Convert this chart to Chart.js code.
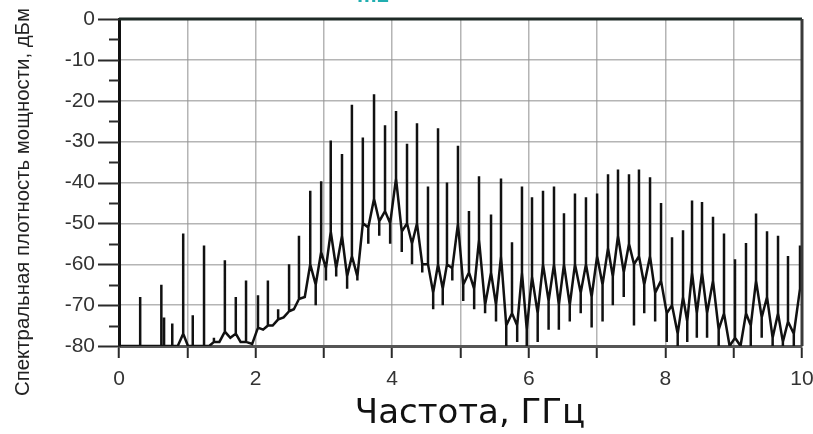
<!DOCTYPE html>
<html>
<head>
<meta charset="utf-8">
<script src="https://cdn.jsdelivr.net/npm/chart.js@4/dist/chart.umd.min.js"></script>
<style>
  html, body { margin: 0; padding: 0; background: #fff; }
  #wrap { width: 813px; height: 434px; }
</style>
</head>
<body>
<div id="wrap"><canvas id="psd" width="813" height="434"></canvas></div>
<script>
// spectral lines (GHz / dBm)
const spikeFreq = [0.31, 0.62, 0.66, 0.78, 0.94, 1.08, 1.245, 1.39, 1.55, 1.71, 1.86, 2.035, 2.18, 2.33, 2.49, 2.635,
  2.80, 2.96, 3.10, 3.265, 3.41, 3.57, 3.734, 3.895, 4.056, 4.217, 4.363, 4.524, 4.671, 4.802, 4.963, 5.124,
  5.271, 5.447, 5.593, 5.754, 5.90, 6.047, 6.208, 6.369, 6.515, 6.676, 6.837, 7.00, 7.16, 7.306, 7.467, 7.613,
  7.775, 7.936, 8.097, 8.258, 8.39, 8.536, 8.697, 8.858, 9.019, 9.18, 9.327, 9.488, 9.649, 9.795, 9.971];
const spikePeak = [-68, -65, -73, -74.5, -52.5, -72.5, -55.4, -78, -59, -68, -64, -67.6, -64, -71, -60, -53,
  -42, -39.7, -29.7, -33, -21, -29, -18.4, -26, -22.5, -30.5, -25.5, -41, -26.7, -40, -31, -47,
  -38.5, -47.8, -39, -54.6, -41, -43.6, -42, -41, -47.5, -42.7, -43.6, -42.7, -38, -36.8, -38, -36.8,
  -38.7, -45, -53.4, -51.7, -44.4, -44.8, -48.4, -52.5, -58.8, -54.8, -47.6, -51.9, -53, -58, -55.4];
// floor level right at the foot of each line
const spikeBase = [-80, -80, -80, -80, -77, -80, -80, -79, -76.5, -77, -79, -75.5, -75, -73.5, -71.5, -68.5,
  -60, -57, -52, -53, -58, -50, -44, -47, -39, -50, -50, -60, -60, -60, -50, -62,
  -54, -62, -58, -72, -62, -63, -60, -60, -60, -60, -60, -58, -56, -53, -55, -58,
  -58, -64, -70, -68, -62, -62, -64, -72, -78, -72, -64, -68, -72, -74, -66];
// noise floor between the lines
const valleyFreq = [0.46, 0.64, 0.72, 0.86, 1.01, 1.16, 1.32, 1.47, 1.63, 1.78, 1.95, 2.11, 2.25, 2.41, 2.56, 2.72,
  2.88, 3.03, 3.18, 3.34, 3.49, 3.65, 3.81, 3.97, 4.14, 4.29, 4.44, 4.60, 4.74, 4.88, 5.04, 5.20,
  5.36, 5.52, 5.67, 5.83, 5.97, 6.13, 6.29, 6.44, 6.60, 6.76, 6.92, 7.08, 7.23, 7.39, 7.54, 7.69,
  7.85, 8.02, 8.18, 8.32, 8.46, 8.61, 8.78, 8.94, 9.10, 9.25, 9.41, 9.57, 9.72, 9.88, 10.0];
const valleyLevel = [-80, -80, -80, -80, -80, -80, -80, -79, -78, -79, -79.5, -76, -75, -73, -71, -68,
  -65, -61, -61, -63, -63, -51, -49.5, -50, -52, -55, -60, -67, -66, -61, -65, -66,
  -70, -70, -75, -75, -76, -72, -69, -70, -70, -67, -68, -65, -63, -62, -60, -65,
  -67, -72, -77, -74, -72, -72, -76, -80, -80, -75, -73, -78, -79, -77, -60];
const valleyDip = [null, null, null, null, null, null, null, null, null, null, null, null, null, null, null, null,
  -70, -64, -63, -66, -64, -55, -53, -55, -57, -60, -62, -71, -70, -64, -69, -71,
  -72, -74, -80, -79, -80, -79, -76, -76, -74, -72, -75.5, -74, -70, -68, -75, -72,
  -74, -79, -80, -79, -78, -78, -80, null, null, -80, -78, -80, -80, -80, null];

const yTicks = [0, -10, -20, -30, -40, -50, -60, -70, -80];
const xTicks = [0, 2, 4, 6, 8, 10];
const yTitle = 'Спектральная плотность мощности, дБм';
const xTitle = 'Частота, ГГц';

// assemble the trace
const trace = [{ x: 0, y: -80 }];
spikeFreq.forEach((f, i) => {
  trace.push({ x: f, y: spikeBase[i] }, { x: f, y: spikePeak[i] }, { x: f, y: spikeBase[i] });
  trace.push({ x: valleyFreq[i], y: valleyLevel[i] });
  if (valleyDip[i] !== null) {
    trace.push({ x: valleyFreq[i], y: valleyDip[i] }, { x: valleyFreq[i], y: valleyLevel[i] });
  }
});

const GRID = 'rgba(150,150,150,0.7)';

// ticks of the left axis, frame, axis titles and marker label
const framePlugin = {
  id: 'frame',
  afterDraw(chart) {
    const { ctx, chartArea: a, scales } = chart;
    const y = scales.y;
    ctx.save();
    ctx.strokeStyle = '#2a2a2a';
    ctx.lineWidth = 2;
    for (let v = 0; v >= -80; v -= 5) {
      const py = Math.round(y.getPixelForValue(v)) + 0.5;
      const len = yTicks.includes(v) ? 21 : 10;
      ctx.beginPath();
      ctx.moveTo(a.left - len, py);
      ctx.lineTo(a.left, py);
      ctx.stroke();
    }
    // top and right edges
    ctx.lineWidth = 3;
    ctx.strokeStyle = '#1e2a26';
    ctx.beginPath();
    ctx.moveTo(a.left, a.top);
    ctx.lineTo(a.right, a.top);
    ctx.stroke();
    ctx.strokeStyle = '#3a3a3a';
    ctx.beginPath();
    ctx.moveTo(a.right, a.top);
    ctx.lineTo(a.right, a.bottom);
    ctx.stroke();

    // y title, condensed like the original
    ctx.save();
    ctx.translate(23, 202);
    ctx.rotate(-Math.PI / 2);
    ctx.font = '20px "Liberation Sans", Arial, sans-serif';
    const w = ctx.measureText(yTitle).width;
    ctx.scale(388 / w, 1);
    ctx.fillStyle = '#222';
    ctx.textAlign = 'center';
    ctx.textBaseline = 'middle';
    ctx.fillText(yTitle, 0, 0);
    ctx.restore();

    // x title, a bit right of the plot centre as in the original
    ctx.fillStyle = '#111';
    ctx.font = '34px "DejaVu Sans", Verdana, sans-serif';
    ctx.textAlign = 'center';
    ctx.textBaseline = 'alphabetic';
    ctx.fillText(xTitle, 470, 423);

    // marker name, clipped by the top of the picture
    ctx.fillStyle = '#21aeb0';
    ctx.font = 'bold 22px "Liberation Sans", Arial, sans-serif';
    ctx.textAlign = 'left';
    ctx.fillText('m1', 357, 2);
    ctx.restore();
  }
};

new Chart(document.getElementById('psd'), {
  type: 'line',
  data: {
    datasets: [{
      data: trace,
      borderColor: '#111',
      borderWidth: 2.5,
      pointRadius: 0,
      tension: 0,
      clip: 0
    }]
  },
  options: {
    responsive: false,
    animation: false,
    devicePixelRatio: 1,
    layout: { padding: { top: 19, right: 11, left: 0, bottom: 0 } },
    plugins: { legend: { display: false }, tooltip: { enabled: false } },
    scales: {
      x: {
        type: 'linear',
        min: 0,
        max: 10,
        afterFit(scale) {
          scale.height = 88;
          scale.paddingLeft = 0;
          scale.paddingRight = 0;
        },
        ticks: {
          stepSize: 1,
          autoSkip: false,
          maxRotation: 0,
          padding: 9,
          color: '#333',
          font: { family: '"Liberation Sans", Arial, sans-serif', size: 21 },
          callback: (v) => xTicks.includes(v) ? String(v) : ''
        },
        grid: { color: GRID, lineWidth: 1.5, tickLength: 12, tickColor: '#2a2a2a', tickWidth: 2 },
        border: { color: '#555', width: 3 }
      },
      y: {
        min: -80,
        max: 0,
        afterFit(scale) { scale.width = 119; },
        ticks: {
          stepSize: 5,
          autoSkip: false,
          padding: 3,
          color: '#333',
          font: { family: '"Liberation Sans", Arial, sans-serif', size: 21 },
          callback: (v) => yTicks.includes(v) ? String(v) : ''
        },
        grid: {
          color: (c) => (c.tick && yTicks.includes(c.tick.value)) ? GRID : 'rgba(0,0,0,0)',
          lineWidth: 1.5,
          tickLength: 21,
          tickColor: 'rgba(0,0,0,0)'
        },
        border: { color: '#111', width: 3 }
      }
    }
  },
  plugins: [framePlugin]
});
</script>
</body>
</html>
